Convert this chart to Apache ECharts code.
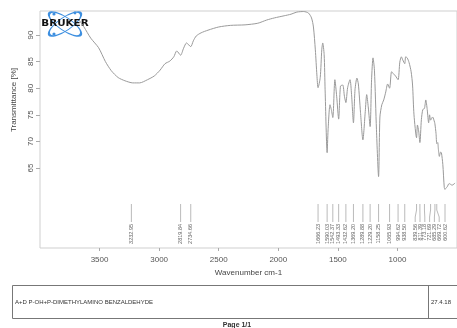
<!DOCTYPE html>
<html>
<head>
<meta charset="utf-8">
<script src="https://cdn.jsdelivr.net/npm/echarts@6/dist/echarts.min.js"></script>
<style>
  html, body { margin: 0; padding: 0; background: #fff; }
  #chart { width: 457px; height: 328px; }
</style>
</head>
<body>
<div id="chart"></div>
<script>
// IR spectrum: wavenumber (cm-1) vs transmittance (%)
const wavenumbers = [
  3672, 3631, 3574, 3508, 3451, 3402, 3344, 3287, 3221, 3164, 3098, 3041, 2992, 2951,
  2910, 2877, 2852, 2820, 2795, 2770, 2735, 2713, 2689, 2648, 2590, 2500, 2402, 2279,
  2172, 2098, 2033, 1951, 1893, 1844, 1787, 1746, 1721, 1705, 1689, 1676, 1666.23, 1648,
  1635, 1627, 1615, 1607, 1590.03, 1582, 1566, 1555, 1542.37, 1525, 1510, 1493.33, 1478,
  1459, 1445, 1432.62, 1418, 1398, 1385, 1369.20, 1356, 1340, 1328, 1310, 1289.88, 1270,
  1258, 1245, 1229.20, 1217, 1205, 1193, 1176, 1158.25, 1147, 1131, 1115, 1098, 1082,
  1065.93, 1049, 1033, 1016, 994.62, 980, 967, 955, 938.50, 931, 918, 902, 885, 873, 861,
  839.56, 832, 822, 811.39, 799, 787, 773.18, 762, 750, 738, 730, 721.69, 705, 688, 685.29,
  676, 669.72, 662, 656, 648, 638, 631, 619, 607, 600.62, 594, 582, 566, 541, 516
];
const transmittance = [
  92.8, 91.5, 89.4, 87.6, 85.0, 83.3, 82.0, 81.4, 81.0, 81.0, 81.6, 82.3, 83.4, 84.6,
  85.1, 85.9, 87.0, 86.2, 87.5, 88.5, 87.8, 88.9, 89.8, 90.4, 90.9, 91.5, 91.8, 91.9,
  92.2, 92.8, 93.2, 93.6, 93.9, 94.3, 94.4, 94.1, 93.2, 91.5, 87.2, 82.5, 80.1, 82.0,
  87.2, 88.5, 86.3, 79.7, 67.9, 72.2, 76.9, 76.0, 74.5, 81.6, 78.5, 74.2, 80.4,
  80.6, 78.5, 77.3, 80.1, 81.6, 78.8, 73.5, 79.7, 81.9, 80.8, 75.5, 70.3, 75.6,
  78.8, 76.5, 72.8, 81.6, 85.7, 83.4, 72.2, 63.4, 74.6, 76.9, 77.8, 79.3, 80.8,
  80.0, 83.1, 82.7, 82.3, 81.6, 84.9, 85.9, 85.3, 84.6, 85.9, 85.7, 84.8, 83.1, 80.6, 75.0,
  70.7, 73.1, 72.0, 69.8, 74.1, 76.0, 76.2, 77.8, 76.0, 73.5, 75.0, 74.0, 74.6, 73.6, 73.3,
  71.5, 69.6, 69.8, 68.5, 67.2, 68.0, 67.9, 65.7, 61.4, 61.0, 61.2, 61.5, 62.1, 61.8, 62.2
];

// Picked peak positions (cm-1)
const peakWavenumbers = [
  3232.95, 2819.84, 2734.66, 1666.23, 1590.03, 1542.37, 1493.33, 1432.62, 1369.20,
  1289.88, 1229.20, 1158.25, 1065.93, 994.62, 938.50, 839.56, 811.39, 773.18, 721.69,
  685.29, 669.72, 600.62
];

// Axis ticks
const xTickValues = [3500, 3000, 2500, 2000, 1500, 1000];
const yTickValues = [65, 70, 75, 80, 85, 90];

const titleText = 'A+D P-OH+P-DIMETHYLAMINO BENZALDEHYDE';
const dateText = '27.4.18';

const FONT = '"Liberation Sans", Arial, sans-serif';
const chart = echarts.init(document.getElementById('chart'), null, { renderer: 'canvas' });

// Spread crowded peak labels into evenly spaced, centred clusters
function spreadLabels(xs, gap) {
  let clusters = xs.map((x, i) => ({ start: i, end: i, center: x }));
  let changed = true;
  while (changed) {
    changed = false;
    for (let k = 0; k < clusters.length - 1; k++) {
      const a = clusters[k], b = clusters[k + 1];
      const aRight = a.center + (a.end - a.start) * gap / 2;
      const bLeft = b.center - (b.end - b.start) * gap / 2;
      if (bLeft - aRight < gap) {
        const start = a.start, end = b.end;
        let sum = 0;
        for (let i = start; i <= end; i++) sum += xs[i];
        clusters.splice(k, 2, { start, end, center: sum / (end - start + 1) });
        changed = true;
        break;
      }
    }
  }
  const out = [];
  clusters.forEach(c => {
    const n = c.end - c.start;
    for (let i = 0; i <= n; i++) out.push(c.center + (i - n / 2) * gap);
  });
  return out;
}

function renderPeaks(params, api) {
  const order = peakWavenumbers.slice().sort((a, b) => b - a);
  const base = api.coord([order[0], 50])[1];
  const xs = order.map(w => api.coord([w, 50])[0]);
  const lx = spreadLabels(xs, 4.8);
  const top = base - 44, bend1 = base - 38, bend2 = base - 31, bottom = base - 26;
  const children = [];
  order.forEach((w, i) => {
    children.push({
      type: 'polyline',
      shape: { points: [[xs[i], top], [xs[i], bend1], [lx[i], bend2], [lx[i], bottom]] },
      style: { stroke: '#a8a8a8', lineWidth: 0.8, fill: null }
    });
    children.push({
      type: 'text',
      x: lx[i], y: bottom + 2,
      rotation: Math.PI / 2,
      style: {
        text: w.toFixed(2), fill: '#666', font: '5.5px ' + FONT,
        align: 'right', verticalAlign: 'middle'
      }
    });
  });
  return { type: 'group', children };
}

const option = {
  animation: false,
  backgroundColor: '#fff',
  grid: {
    left: 40, top: 11, width: 427, height: 237,
    show: true, borderColor: '#cfcfcf', borderWidth: 1, backgroundColor: 'transparent'
  },
  xAxis: {
    type: 'value', inverse: true, min: 500, max: 4000, interval: 500,
    name: 'Wavenumber cm-1', nameLocation: 'middle', nameGap: 21,
    nameTextStyle: { color: '#444', fontSize: 8, fontFamily: FONT },
    axisLine: { show: false },
    splitLine: { show: false },
    axisTick: { show: true, length: 3, lineStyle: { color: '#aaa' }, customValues: xTickValues },
    axisLabel: {
      color: '#555', fontSize: 8, fontFamily: FONT, margin: 8, customValues: xTickValues,
      formatter: v => String(v)
    }
  },
  yAxis: {
    type: 'value', min: 50, max: 94.5, interval: 5,
    axisLine: { show: false },
    splitLine: { show: false },
    axisTick: { show: true, length: 4, lineStyle: { color: '#aaa' }, customValues: yTickValues },
    axisLabel: {
      color: '#555', fontSize: 8, fontFamily: FONT, rotate: 90, margin: 5, customValues: yTickValues,
      formatter: v => String(v)
    }
  },
  series: [
    {
      type: 'line',
      data: wavenumbers.map((w, i) => [w, transmittance[i]]),
      showSymbol: false,
      smooth: 0.25,
      lineStyle: { color: '#9a9a9a', width: 1 },
      silent: true
    },
    {
      type: 'custom',
      data: [[2000, 70]],
      renderItem: renderPeaks,
      clip: false,
      silent: true
    }
  ],
  graphic: [
    // y-axis title
    {
      type: 'text', x: 14, y: 100, rotation: Math.PI / 2,
      style: { text: 'Transmittance [%]', fill: '#444', font: '8px ' + FONT, align: 'center', verticalAlign: 'middle' }
    },
    // BRUKER logo: two crossed orbits and the word mark
    {
      type: 'group', x: 65, y: 24, z: 100,
      children: [
        { type: 'circle', shape: { cx: 0, cy: 0, r: 19 }, scaleY: 0.34, rotation: 0.6,
          style: { fill: null, stroke: '#3d8fe0', lineWidth: 2.6 } },
        { type: 'circle', shape: { cx: 0, cy: 0, r: 19 }, scaleY: 0.34, rotation: -0.6,
          style: { fill: null, stroke: '#3d8fe0', lineWidth: 2.6 } },
        { type: 'circle', shape: { cx: -11, cy: -10, r: 1.6 }, style: { fill: '#3d8fe0' } },
        { type: 'circle', shape: { cx: -11, cy: 10, r: 1.6 }, style: { fill: '#3d8fe0' } },
        { type: 'circle', shape: { cx: 10, cy: -11, r: 1.4 }, style: { fill: '#3d8fe0' } },
        {
          type: 'text', x: 0, y: 0, scaleX: 1.15,
          style: { text: 'BRUKER', fill: '#111', font: 'bold 9px "DejaVu Sans", sans-serif', align: 'center', verticalAlign: 'middle' }
        }
      ]
    },
    // sample table
    {
      type: 'rect', shape: { x: 12.5, y: 285.5, width: 460, height: 33 },
      style: { fill: null, stroke: '#777', lineWidth: 1 }
    },
    {
      type: 'line', shape: { x1: 428.5, y1: 285.5, x2: 428.5, y2: 318.5 },
      style: { stroke: '#777', lineWidth: 1 }
    },
    {
      type: 'text', x: 15, y: 302,
      style: { text: titleText, fill: '#333', font: '6px ' + FONT, align: 'left', verticalAlign: 'middle' }
    },
    {
      type: 'text', x: 431, y: 302,
      style: { text: dateText, fill: '#333', font: '6px ' + FONT, align: 'left', verticalAlign: 'middle' }
    },
    {
      type: 'text', x: 237, y: 325,
      style: { text: 'Page 1/1', fill: '#333', font: 'bold 7px ' + FONT, align: 'center', verticalAlign: 'middle' }
    }
  ]
};

chart.setOption(option);
</script>
</body>
</html>
